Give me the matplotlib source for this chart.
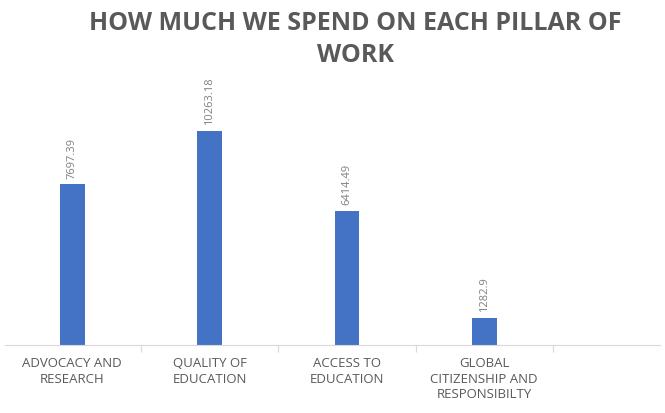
import numpy as np
import matplotlib.pyplot as plt

categories = ['ADVOCACY AND\nRESEARCH', 'QUALITY OF\nEDUCATION', 'ACCESS TO\nEDUCATION',
              'GLOBAL\nCITIZENSHIP AND\nRESPONSIBILTY']
values = [7697.39, 10263.18, 6414.49, 1282.9]
value_labels = ['7697.39', '10263.18', '6414.49', '1282.9']

plt.rcParams['font.family'] = ['Open Sans', 'DejaVu Sans']

fig = plt.figure(figsize=(6.65, 4.14), dpi=100)
ax = fig.add_axes([5/665, 68/414, 655/665, 266/414])

x = np.arange(len(categories))
ax.bar(x, values, width=0.18, color='#4472C4', zorder=2)
for xi, v, lab in zip(x, values, value_labels):
    ax.annotate(lab, (xi, v), xytext=(0, 5), textcoords='offset points',
                rotation=90, ha='center', va='bottom', fontsize=8, color='#7f7f7f')

ax.set_xlim(-0.49, 4.28)
ax.set_ylim(0, 12757)
ax.set_yticks([])
for s in ['top', 'right', 'left']:
    ax.spines[s].set_visible(False)
ax.spines['bottom'].set_color('#d9d9d9')

# separators between categories
ax.set_xticks(np.arange(0.5, 4.0, 1.0), minor=True)
ax.tick_params(axis='x', which='minor', length=5, color='#d9d9d9', width=0.8)
ax.set_xticks(x)
ax.set_xticklabels(categories, fontsize=9.5, color='#595959', linespacing=1.25)
ax.tick_params(axis='x', which='major', length=0, pad=8)

fig.text(0.534, 0.973, 'HOW MUCH WE SPEND ON EACH PILLAR OF\nWORK', ha='center', va='top',
         fontsize=18, fontweight='bold', color='#595959', linespacing=1.35)

fig.savefig('out.png', dpi=100)
